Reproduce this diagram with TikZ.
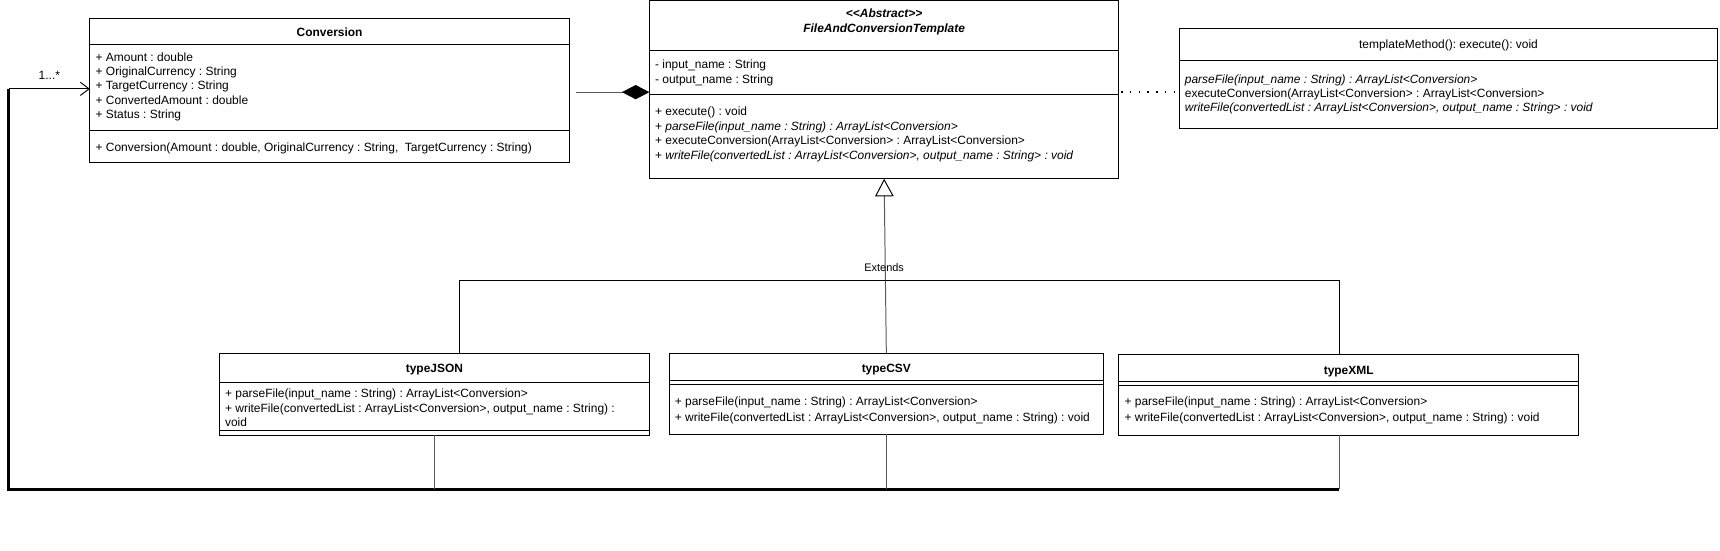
\documentclass[tikz,border=0pt]{standalone}
\usepackage{fontspec}
\setmainfont{Liberation Sans}
\usetikzlibrary{arrows.meta}
\frenchspacing
\begin{document}
\begin{tikzpicture}[x=1pt,y=-1pt,
  box/.style={draw,line width=0.9pt,inner sep=0pt,outer sep=0pt,anchor=north west},
  sep/.style={line width=0.9pt},
  txt/.style={anchor=base west,inner sep=0pt,font=\fontsize{10.9}{13}\selectfont},
  ttl/.style={anchor=base,inner sep=0pt,font=\fontsize{10.9}{13}\selectfont\bfseries},
  plain/.style={anchor=base,inner sep=0pt,font=\fontsize{10.9}{13}\selectfont},
  conn/.style={line width=0.9pt,black!65},
  thick/.style={line width=2.6pt,black}]
\useasboundingbox (0,0) rectangle (1568,502);

% ---------- Conversion ----------
\node[box,minimum width=437pt,minimum height=131pt] (conv) at (82,17) {};
\draw[sep] (82,41) -- (519,41);
\draw[sep] (82,119) -- (519,119);
\node[ttl] (convT) at (300.5,33) {Conversion};
\node[txt] (c1) at (87,56) {+ Amount : double};
\node[txt] (c2) at (87,69) {+ OriginalCurrency : String};
\node[txt] (c3) at (87,82) {+ TargetCurrency : String};
\node[txt] (c4) at (87,95) {+ ConvertedAmount : double};
\node[txt] (c5) at (87,108) {+ Status : String};
\node[txt] (c6) at (87,138) {+ Conversion(Amount : double, OriginalCurrency : String,~ TargetCurrency : String)};

% ---------- FileAndConversionTemplate ----------
\node[box,minimum width=428pt,minimum height=162.5pt] (tmpl) at (592,0.5) {};
\draw[sep] (592,46) -- (1020,46);
\draw[sep] (592,86) -- (1020,86);
\node[ttl,font=\fontsize{10.9}{13}\selectfont\bfseries\itshape] (tmplS) at (806,16) {<\kern0pt<Abstract>\kern0pt>};
\node[ttl,font=\fontsize{10.9}{13}\selectfont\bfseries\itshape] (tmplT) at (806,30) {FileAndConversionTemplate};
\node[txt] (t1) at (597,62) {- input\_name : String};
\node[txt] (t2) at (597,76) {- output\_name : String};
\node[txt] (t3) at (597,105) {+ execute() : void};
\node[txt] (t4) at (597,119) {+ \textit{parseFile(input\_name : String) : ArrayList<Conversion>}};
\node[txt] (t5) at (597,132) {+ executeConversion(ArrayList<Conversion> : ArrayList<Conversion>};
\node[txt] (t6) at (597,145) {+ \textit{writeFile(convertedList : ArrayList<Conversion>, output\_name : String> : void}};

% ---------- templateMethod note ----------
\node[box,minimum width=491pt,minimum height=91pt] (tm) at (1075,26) {};
\draw[sep] (1075,55) -- (1566,55);
\node[plain] (tmT) at (1320.5,44) {templateMethod(): execute(): void};
\node[txt] (m1) at (1080,76) {\textit{parseFile(input\_name : String) : ArrayList<Conversion>}};
\node[txt] (m2) at (1080,89) {executeConversion(ArrayList<Conversion> : ArrayList<Conversion>};
\node[txt] (m3) at (1080,102) {\textit{writeFile(convertedList : ArrayList<Conversion>, output\_name : String> : void}};

% ---------- typeJSON ----------
\node[box,minimum width=392pt,minimum height=75pt] (json) at (200,322) {};
\draw[sep] (200,349) -- (592,349);
\draw[sep] (200,392) -- (592,392);
\node[ttl] (jsonT) at (396,340) {typeJSON};
\node[txt] (j1) at (205,362) {+ parseFile(input\_name : String) : ArrayList<Conversion>};
\node[txt] (j2) at (205,376) {+ writeFile(convertedList : ArrayList<Conversion>, output\_name : String) :};
\node[txt] (j3) at (205,389) {void};

% ---------- typeCSV ----------
\node[box,minimum width=396pt,minimum height=74pt] (csv) at (610,322) {};
\draw[sep] (610,347) -- (1006,347);
\draw[sep] (610,350.5) -- (1006,350.5);
\node[ttl] (csvT) at (808,340) {typeCSV};
\node[txt] (s1) at (615,370) {+ parseFile(input\_name : String) : ArrayList<Conversion>};
\node[txt] (s2) at (615,384) {+ writeFile(convertedList : ArrayList<Conversion>, output\_name : String) : void};

% ---------- typeXML ----------
\node[box,minimum width=419pt,minimum height=74pt] (xml) at (1020,323) {};
\draw[sep] (1020,348) -- (1439,348);
\draw[sep] (1020,351.5) -- (1439,351.5);
\node[ttl] (xmlT) at (1229.5,341) {typeXML};
\node[txt] (x1) at (1025,370) {+ parseFile(input\_name : String) : ArrayList<Conversion>};
\node[txt] (x2) at (1025,384) {+ writeFile(convertedList : ArrayList<Conversion>, output\_name : String) : void};

% ---------- connectors ----------
% composition
\coordinate (compA) at (525,84);
\draw[conn,-{Diamond[length=25pt,width=13pt,fill=black,black]}] (compA) -- (compA -| tmpl.west);

% dotted link to note
\coordinate (dotA) at (1022,84);
\draw[line width=1.4pt,black,dash pattern=on 1.3pt off 6.7pt] (dotA) -- (dotA -| tm.west);

% generalization
\draw[conn,-{Triangle[open,length=16pt,width=17pt,fill=white,black]}] (csv.north) -- (tmpl.south);
\node[plain,anchor=center,font=\fontsize{10}{12}\selectfont] (ext) at (806,244) {Extends};
\coordinate (jsonTop) at (419,322);
\coordinate (xmlTop) at (1221,323);
\coordinate (brL) at (419,256);
\coordinate (brR) at (1221,256);
\draw[line width=0.9pt] (jsonTop) -- (brL) -- (brR) -- (xmlTop);

% association back to Conversion
\coordinate (asc) at (8,81);
\coordinate (bl) at (8,446);
\coordinate (br) at (1221,446);
\coordinate (xmlBot) at (1221,397);
\draw[line width=0.9pt,-{Straight Barb[length=8pt,width=12pt]}] (asc) -- (asc -| conv.west);
\node[plain,anchor=center] (mult) at (45,69) {1...*};
\draw[thick] (asc) -- (bl) -- (br);
\draw[conn] (json.south) -- (json.south |- bl);
\draw[conn] (csv.south) -- (csv.south |- bl);
\draw[conn] (xmlBot) -- (br);
\end{tikzpicture}
\end{document}
